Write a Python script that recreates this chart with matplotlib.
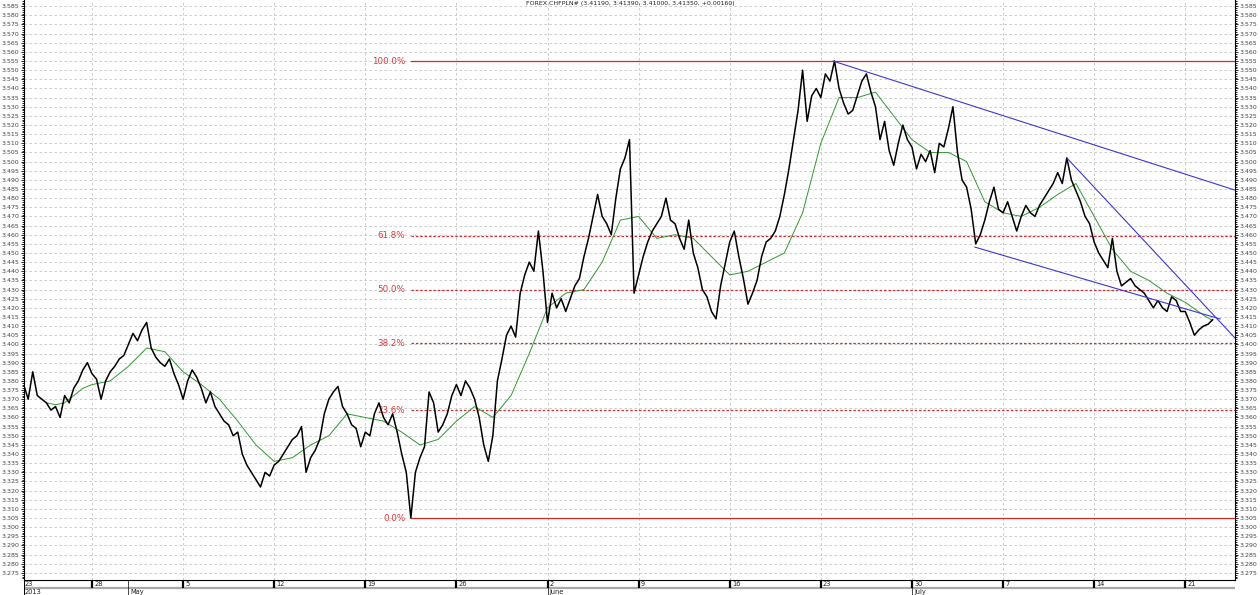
import numpy as np
import matplotlib
matplotlib.use("Agg")
import matplotlib.pyplot as plt

# x unit = trading day, 0 = Monday 29 Apr 2013, 4 bars per day
price = [
    3.378, 3.370, 3.385, 3.372, 3.370, 3.368, 3.364, 3.366, 3.360, 3.372, 3.368, 3.376, 3.380, 3.386, 3.390,
    3.384, 3.381, 3.370, 3.380,
    3.385, 3.388, 3.392, 3.394,
    3.400, 3.406, 3.402, 3.408,
    3.412, 3.398, 3.393, 3.390,
    3.388, 3.392, 3.384, 3.378,
    3.370, 3.380, 3.386, 3.382,
    3.376, 3.368, 3.374, 3.366,
    3.362, 3.358, 3.356, 3.350,
    3.352, 3.340, 3.334, 3.330,
    3.326, 3.322, 3.330, 3.328,
    3.334, 3.336, 3.340, 3.344,
    3.348, 3.350, 3.355, 3.330,
    3.338, 3.342, 3.348, 3.362,
    3.370, 3.374, 3.377, 3.366,
    3.362, 3.356, 3.354, 3.344,
    3.352, 3.350, 3.362, 3.368,
    3.360, 3.356, 3.362, 3.352,
    3.340, 3.330, 3.305, 3.330,
    3.338, 3.344, 3.374, 3.368,
    3.352, 3.356, 3.362, 3.372,
    3.378, 3.372, 3.380, 3.376,
    3.370, 3.360, 3.345, 3.336,
    3.350, 3.380, 3.392, 3.405,
    3.410, 3.404, 3.428, 3.438,
    3.445, 3.440, 3.462, 3.440,
    3.412, 3.428, 3.420, 3.425,
    3.418, 3.425, 3.432, 3.436,
    3.448, 3.458, 3.470, 3.482,
    3.470, 3.466, 3.460, 3.480,
    3.496, 3.502, 3.512, 3.428,
    3.438, 3.448, 3.456, 3.462,
    3.466, 3.470, 3.480, 3.468,
    3.466, 3.458, 3.452, 3.468,
    3.450, 3.442, 3.430, 3.426,
    3.418, 3.414, 3.432, 3.444,
    3.456, 3.462, 3.448, 3.436,
    3.422, 3.428, 3.435, 3.448,
    3.456, 3.458, 3.462, 3.470,
    3.482, 3.496, 3.512, 3.528,
    3.550, 3.522, 3.536, 3.540,
    3.535, 3.548, 3.544, 3.555,
    3.540, 3.532, 3.526, 3.528,
    3.536, 3.544, 3.548, 3.538,
    3.530, 3.512, 3.522, 3.506,
    3.498, 3.510, 3.520, 3.512,
    3.508, 3.496, 3.504, 3.500,
    3.506, 3.494, 3.510, 3.508,
    3.518, 3.530, 3.505, 3.490,
    3.486, 3.474, 3.455, 3.460,
    3.468, 3.478, 3.486, 3.474,
    3.472, 3.478, 3.470, 3.462,
    3.470, 3.476, 3.472, 3.470,
    3.476, 3.480, 3.484, 3.488,
    3.494, 3.488, 3.502, 3.490,
    3.484, 3.478, 3.470, 3.466,
    3.456, 3.450, 3.446, 3.442,
    3.458, 3.440, 3.432, 3.434,
    3.436, 3.432, 3.430, 3.428,
    3.424, 3.420, 3.424, 3.420,
    3.418, 3.426, 3.424, 3.418,
    3.418, 3.412, 3.405, 3.408,
    3.410, 3.411, 3.4135,
]
price_day = np.arange(len(price)) * 0.25 - 3.75

# moving average (green), one reading per day
ma_day = [-2.5, -2.0, -1.5, -1, -0.5, 0, 1, 2, 3, 4, 5, 6, 7, 8, 9, 10, 11, 12, 13, 14,
          15, 16, 17, 18, 19, 20, 21, 22, 23, 24, 25, 26, 27, 28, 29, 30, 31, 32, 33, 34,
          35, 36, 37, 38, 39, 40, 41, 42, 43, 44, 45, 46, 47, 48, 49, 50, 51, 52, 53, 54,
          55, 56, 57, 58, 59, 60, 61, 61.5]
ma = [3.368, 3.367, 3.368, 3.372, 3.376, 3.378, 3.380, 3.388, 3.398, 3.396, 3.385, 3.378,
      3.370, 3.358, 3.345, 3.336, 3.338, 3.345, 3.350, 3.362, 3.360, 3.358, 3.352, 3.345,
      3.348, 3.358, 3.366, 3.360, 3.372, 3.395, 3.420, 3.428, 3.430, 3.445, 3.468, 3.470,
      3.458, 3.460, 3.458, 3.448, 3.438, 3.440, 3.445, 3.450, 3.472, 3.510, 3.535, 3.535,
      3.538, 3.525, 3.512, 3.505, 3.505, 3.500, 3.478, 3.472, 3.470, 3.475, 3.482, 3.488,
      3.470, 3.452, 3.440, 3.435, 3.428, 3.423, 3.416, 3.413]

# trend lines (start day, start price, end day, end price)
upper_line = [40.67, 3.555, 62.73, 3.4844]
steep_line = [53.51, 3.5019, 62.73, 3.4035]
lower_line = [48.46, 3.4532, 61.91, 3.4139]

# fibonacci retracement
fib_low = 3.305
fib_high = 3.555
fib_start = 17.5
fib_levels = [0.0, 0.236, 0.382, 0.5, 0.618, 1.0]
fib_labels = ["0.0%", "23.6%", "38.2%", "50.0%", "61.8%", "100.0%"]

# date axis
week_pos = [0, 5, 10, 15, 20, 25, 30, 35, 40, 45, 50, 55, 60]
week_labels = ["28", "5", "12", "19", "26", "2", "9", "16", "23", "30", "7", "14", "21"]
month_pos = [2, 25, 45]
month_labels = ["May", "June", "July"]

title = "FOREX CHFPLN# (3.41190, 3.41390, 3.41000, 3.41350, +0.00160)"

W, H = 1260, 595
fig = plt.figure(figsize=(W / 100, H / 100), dpi=100)
x0, x1 = -3.73, 62.73
ax = fig.add_axes([24 / W, 15 / H, (1235 - 24) / W, 580 / H])
ax.set_xlim(x0, x1)
ax.set_ylim(3.2711, 3.5884)

yt = np.round(np.arange(3.275, 3.5851, 0.005), 3)
ax.set_yticks(yt)
ax.set_yticklabels(["%.3f" % v for v in yt])
ax.set_yticks(np.round(np.arange(3.272, 3.588, 0.001), 3), minor=True)
ax.tick_params(axis="y", which="both", left=True, right=True, labelleft=True, labelright=True,
               labelsize=4.5, labelcolor="#444444", direction="out", width=0.6, pad=1)
ax.tick_params(axis="y", which="major", length=2.5)
ax.tick_params(axis="y", which="minor", length=1.3)
ax.set_xticks(week_pos)
ax.tick_params(axis="x", bottom=False, labelbottom=False)
ax.grid(True, color="#c4c4c4", linestyle=(0, (3, 3)), linewidth=0.6)
ax.spines["top"].set_visible(False)
for s in ["left", "right", "bottom"]:
    ax.spines[s].set_linewidth(0.8)

# fib lines
rng = fib_high - fib_low
for lev, lab in zip(fib_levels, fib_labels):
    y = fib_low + lev * rng
    if lev in (0.0, 1.0):
        ax.plot([fib_start, x1], [y, y], color="#d22a2a", lw=0.9, zorder=3)
    else:
        ax.plot([fib_start, x1], [y, y], color="#d03030", lw=0.9, linestyle=(0, (2, 1.5)), zorder=3)
    ax.text(fib_start - 0.3, y, lab, color="#e0383c", fontsize=6.3, ha="right", va="center")

ax.plot(ma_day, ma, color="#2f9a2f", lw=0.7, zorder=4)
ax.plot(price_day, price, color="black", lw=1.1, zorder=5)
for ln in [upper_line, steep_line, lower_line]:
    ax.plot([ln[0], ln[2]], [ln[1], ln[3]], color="#3838d8", lw=0.8, zorder=6)

fig.text(630 / W, 1 - 4 / H, title, fontsize=4.5, ha="center", va="center", color="#222222")

# date strip
dx = fig.add_axes([24 / W, 0, (1235 - 24) / W, 15 / H])
dx.set_xlim(x0, x1)
dx.set_ylim(0, 15)
dx.axis("off")
dx.plot([x0, x1], [7, 7], color="#a8a8a8", lw=1.6)
dx.vlines(week_pos, 7, 15, color="black", lw=1.6)
for p, lab in zip(week_pos, week_labels):
    dx.text(p + 0.12, 11, lab, fontsize=4.8, va="center", ha="left", color="#222222")
dx.text(x0 + 0.05, 11, "23", fontsize=4.8, va="center", ha="left", color="#222222")
dx.vlines(month_pos, 0, 15, color="black", lw=0.5)
dx.vlines([x0], 0, 15, color="black", lw=0.8)
for p, lab in zip(month_pos, month_labels):
    dx.text(p + 0.12, 3.2, lab, fontsize=4.8, va="center", ha="left", color="#222222")
dx.text(x0 + 0.05, 3.2, "2013", fontsize=4.8, va="center", ha="left", color="#222222")

fig.savefig("out.png", dpi=100)
